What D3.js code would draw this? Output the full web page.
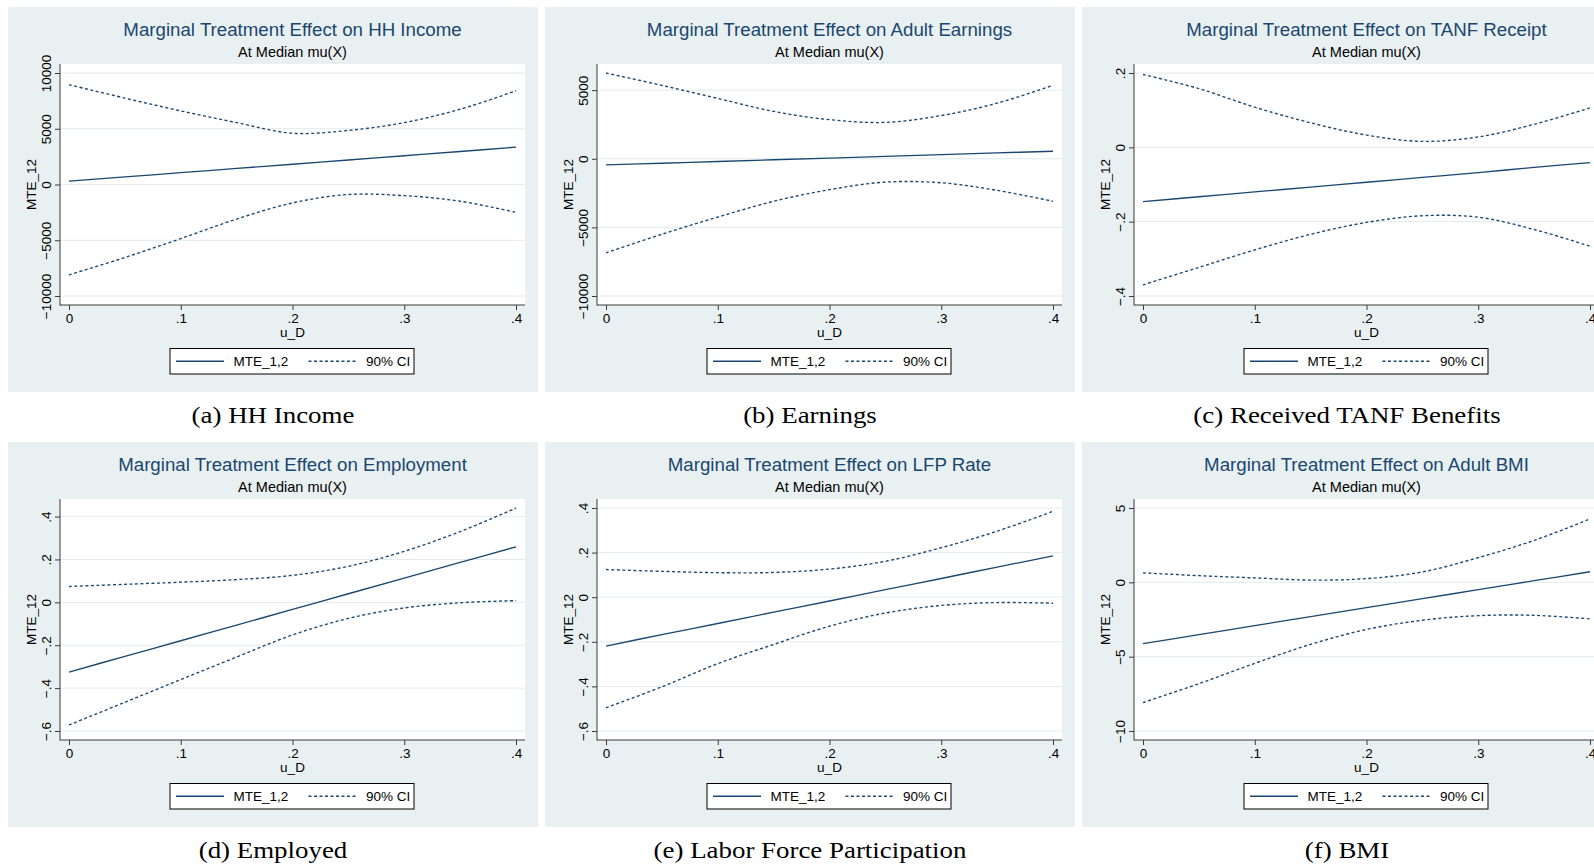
<!DOCTYPE html>
<html>
<head>
<meta charset="utf-8">
<script src="https://cdn.jsdelivr.net/npm/d3@7"></script>
<style>
  body { margin: 0; background: #ffffff; }
  svg { display: block; }
</style>
</head>
<body>
<script>
// Evaluation grid for the unobserved resistance u_D
const uD = [0, 0.05, 0.10, 0.15, 0.20, 0.25, 0.30, 0.35, 0.40];
const xTicks = [0, 0.1, 0.2, 0.3, 0.4];
const xTickLabels = ["0", ".1", ".2", ".3", ".4"];

// (a) household income
const incomeMTE   = [300, 680, 1060, 1440, 1820, 2200, 2580, 2960, 3350];
const incomeUpper = [8950, 7750, 6600, 5550, 4600, 4850, 5550, 6750, 8400];
const incomeLower = [-8100, -6550, -4850, -3100, -1650, -900, -1000, -1500, -2500];
const incomeTicks = [-10000, -5000, 0, 5000, 10000];
const incomeTickLabels = ["\u221210000", "\u22125000", "0", "5000", "10000"];

// (b) adult earnings
const earnMTE   = [-450, -325, -200, -75, 50, 175, 300, 425, 550];
const earnUpper = [6250, 5350, 4400, 3450, 2850, 2650, 3150, 4050, 5350];
const earnLower = [-6850, -5500, -4250, -3100, -2250, -1700, -1750, -2300, -3100];
const earnTicks = [-10000, -5000, 0, 5000];
const earnTickLabels = ["\u221210000", "\u22125000", "0", "5000"];

// (c) TANF receipt
const tanfMTE   = [-0.146, -0.133, -0.120, -0.107, -0.094, -0.081, -0.068, -0.054, -0.041];
const tanfUpper = [0.196, 0.158, 0.108, 0.066, 0.033, 0.016, 0.028, 0.062, 0.106];
const tanfLower = [-0.370, -0.323, -0.276, -0.234, -0.202, -0.184, -0.188, -0.221, -0.266];
const tanfTicks = [-0.4, -0.2, 0, 0.2];
const tanfTickLabels = ["\u2212.4", "\u2212.2", "0", ".2"];

// (d) employment
const empMTE   = [-0.325, -0.252, -0.179, -0.106, -0.033, 0.040, 0.113, 0.186, 0.259];
const empUpper = [0.074, 0.084, 0.094, 0.106, 0.126, 0.168, 0.238, 0.330, 0.440];
const empLower = [-0.572, -0.466, -0.360, -0.255, -0.152, -0.075, -0.026, -0.002, 0.008];
const empTicks = [-0.6, -0.4, -0.2, 0, 0.2, 0.4];
const empTickLabels = ["\u2212.6", "\u2212.4", "\u2212.2", "0", ".2", ".4"];

// (e) labor force participation
const lfpMTE   = [-0.219, -0.168, -0.118, -0.067, -0.017, 0.034, 0.084, 0.135, 0.185];
const lfpUpper = [0.124, 0.116, 0.110, 0.111, 0.126, 0.161, 0.222, 0.296, 0.385];
const lfpLower = [-0.496, -0.402, -0.298, -0.212, -0.130, -0.071, -0.037, -0.024, -0.027];
const lfpTicks = [-0.6, -0.4, -0.2, 0, 0.2, 0.4];
const lfpTickLabels = ["\u2212.6", "\u2212.4", "\u2212.2", "0", ".2", ".4"];

// (f) adult BMI
const bmiMTE   = [-4.12, -3.52, -2.91, -2.31, -1.70, -1.10, -0.49, 0.11, 0.71];
const bmiUpper = [0.64, 0.45, 0.30, 0.15, 0.25, 0.70, 1.66, 2.82, 4.26];
const bmiLower = [-8.09, -6.82, -5.45, -4.17, -3.17, -2.55, -2.24, -2.22, -2.46];
const bmiTicks = [-10, -5, 0, 5];
const bmiTickLabels = ["\u221210", "\u22125", "0", "5"];

const titles = [
  "Marginal Treatment Effect on HH Income",
  "Marginal Treatment Effect on Adult Earnings",
  "Marginal Treatment Effect on TANF Receipt",
  "Marginal Treatment Effect on Employment",
  "Marginal Treatment Effect on LFP Rate",
  "Marginal Treatment Effect on Adult BMI"
];
const captions = [
  "(a) HH Income", "(b) Earnings", "(c) Received TANF Benefits",
  "(d) Employed", "(e) Labor Force Participation", "(f) BMI"
];
const subtitle = "At Median mu(X)";
const xTitle = "u_D";
const yTitle = "MTE_12";
const legendLabels = ["MTE_1,2", "90% CI"];

const panels = [
  { mte: incomeMTE, upper: incomeUpper, lower: incomeLower, ticks: incomeTicks, tickLabels: incomeTickLabels },
  { mte: earnMTE,   upper: earnUpper,   lower: earnLower,   ticks: earnTicks,   tickLabels: earnTickLabels },
  { mte: tanfMTE,   upper: tanfUpper,   lower: tanfLower,   ticks: tanfTicks,   tickLabels: tanfTickLabels },
  { mte: empMTE,    upper: empUpper,    lower: empLower,    ticks: empTicks,    tickLabels: empTickLabels },
  { mte: lfpMTE,    upper: lfpUpper,    lower: lfpLower,    ticks: lfpTicks,    tickLabels: lfpTickLabels },
  { mte: bmiMTE,    upper: bmiUpper,    lower: bmiLower,    ticks: bmiTicks,    tickLabels: bmiTickLabels }
];

// ---- layout ----
const W = 1594, H = 867;
const colX = [8, 545, 1082], rowY = [7, 442];
const panelW = 530, panelH = 385;
const plotL = 52, plotR = 517, plotT = 57, plotB = 298, pad = 9;

const BG = "#e9f0f2", GRID = "#e2eaed", NAVY = "#1a476f", AXIS = "#3a3a3a";
const SANS = "'Liberation Sans', Arial, Helvetica, sans-serif";
const SERIF = "'Liberation Serif', 'Times New Roman', serif";
const DASH = "3 2.5";

const svg = d3.select("body").append("svg")
  .attr("width", W).attr("height", H)
  .attr("font-family", SANS);

panels.forEach((p, i) => {
  const ox = colX[i % 3], oy = rowY[Math.floor(i / 3)];
  const g = svg.append("g").attr("transform", `translate(${ox},${oy})`);

  g.append("rect").attr("width", panelW).attr("height", panelH).attr("fill", BG);
  g.append("rect").attr("x", plotL).attr("y", plotT)
    .attr("width", plotR - plotL).attr("height", plotB - plotT).attr("fill", "#ffffff");

  const x = d3.scaleLinear().domain([0, 0.4]).range([plotL + pad, plotR - pad]);
  const all = p.mte.concat(p.upper, p.lower, p.ticks);
  const y = d3.scaleLinear().domain([d3.min(all), d3.max(all)]).range([plotB - pad, plotT + pad]);

  // horizontal grid
  g.append("g").selectAll("line").data(p.ticks).join("line")
    .attr("x1", plotL).attr("x2", plotR)
    .attr("y1", d => y(d)).attr("y2", d => y(d))
    .attr("stroke", GRID).attr("stroke-width", 1);

  // y axis
  const yAxis = d3.axisLeft(y).tickValues(p.ticks)
    .tickFormat((d, j) => p.tickLabels[j]).tickSize(5).tickSizeOuter(0);
  const gy = g.append("g").attr("transform", `translate(${plotL},0)`).call(yAxis);
  gy.select(".domain").remove();
  gy.selectAll(".tick line").attr("stroke", AXIS);
  gy.selectAll(".tick text")
    .attr("transform", "rotate(-90)")
    .attr("x", 0).attr("y", -9).attr("dy", 0)
    .attr("text-anchor", "middle")
    .attr("font-family", SANS).attr("font-size", 13.5).attr("fill", "#000");

  // x axis
  const xAxis = d3.axisBottom(x).tickValues(xTicks)
    .tickFormat((d, j) => xTickLabels[j]).tickSize(5).tickSizeOuter(0);
  const gx = g.append("g").attr("transform", `translate(0,${plotB})`).call(xAxis);
  gx.select(".domain").remove();
  gx.selectAll(".tick line").attr("stroke", AXIS);
  gx.selectAll(".tick text")
    .attr("y", 17.7).attr("dy", 0)
    .attr("font-family", SANS).attr("font-size", 13.5).attr("fill", "#000");

  // axis lines across the full plot region
  g.append("line").attr("x1", plotL).attr("x2", plotL).attr("y1", plotT).attr("y2", plotB + 0.5)
    .attr("stroke", AXIS).attr("stroke-width", 1);
  g.append("line").attr("x1", plotL).attr("x2", plotR).attr("y1", plotB).attr("y2", plotB)
    .attr("stroke", AXIS).attr("stroke-width", 1);

  // series
  const line = d3.line().x((d, j) => x(uD[j])).y(d => y(d)).curve(d3.curveCatmullRom.alpha(0.5));
  [p.upper, p.lower].forEach(s => {
    g.append("path").attr("d", line(s)).attr("fill", "none")
      .attr("stroke", NAVY).attr("stroke-width", 1.35).attr("stroke-dasharray", DASH);
  });
  g.append("path").attr("d", line(p.mte)).attr("fill", "none")
    .attr("stroke", NAVY).attr("stroke-width", 1.35);

  // titles
  const cx = (plotL + plotR) / 2;
  g.append("text").attr("x", cx).attr("y", 29).attr("text-anchor", "middle")
    .attr("font-size", 18.7).attr("fill", NAVY).text(titles[i]);
  g.append("text").attr("x", cx).attr("y", 50.3).attr("text-anchor", "middle")
    .attr("font-size", 14.5).attr("fill", "#000").text(subtitle);
  g.append("text").attr("x", cx).attr("y", 329.7).attr("text-anchor", "middle")
    .attr("font-size", 13.5).attr("fill", "#000").text(xTitle);
  g.append("text").attr("transform", `translate(27.5,${(plotT + plotB) / 2}) rotate(-90)`)
    .attr("text-anchor", "middle").attr("font-size", 13.5).attr("fill", "#000").text(yTitle);

  // legend
  const L = 162, LT = 341.5, LW = 244, LH = 25.5, ly = LT + LH / 2;
  g.append("rect").attr("x", L).attr("y", LT).attr("width", LW).attr("height", LH)
    .attr("fill", "#ffffff").attr("stroke", "#000").attr("stroke-width", 1);
  g.append("line").attr("x1", L + 6).attr("x2", L + 54).attr("y1", ly).attr("y2", ly)
    .attr("stroke", NAVY).attr("stroke-width", 1.35);
  g.append("text").attr("x", L + 63.5).attr("y", 358.7).attr("font-size", 13.5).text(legendLabels[0]);
  g.append("line").attr("x1", L + 138.5).attr("x2", L + 187).attr("y1", ly).attr("y2", ly)
    .attr("stroke", NAVY).attr("stroke-width", 1.35).attr("stroke-dasharray", DASH);
  g.append("text").attr("x", L + 196).attr("y", 358.7).attr("font-size", 13.5).text(legendLabels[1]);

  // sub-figure caption
  g.append("text").attr("transform", `translate(${panelW / 2},416) scale(1.17,1)`)
    .attr("text-anchor", "middle").attr("font-family", SERIF).attr("font-size", 23)
    .attr("fill", "#000").text(captions[i]);
});
</script>
</body>
</html>
